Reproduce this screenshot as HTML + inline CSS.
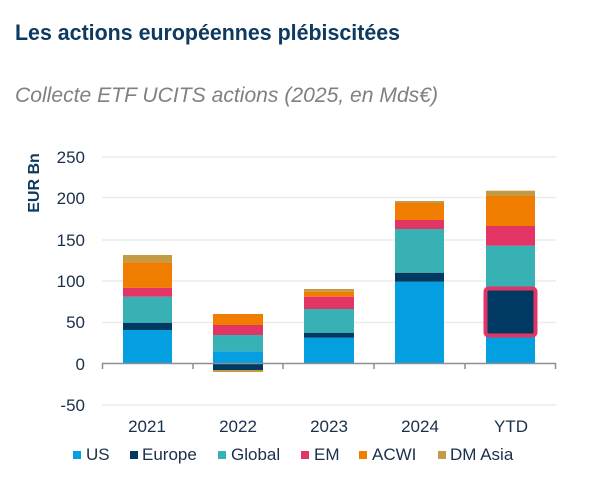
<!DOCTYPE html>
<html><head><meta charset="utf-8"><style>
body{margin:0;background:#fff;width:616px;height:478px;overflow:hidden}
</style></head><body>
<svg width="616" height="478" xmlns="http://www.w3.org/2000/svg" font-family="Liberation Sans, sans-serif">
<text x="15" y="40" font-size="22" font-weight="bold" fill="#0d3a60" textLength="385" lengthAdjust="spacingAndGlyphs">Les actions européennes plébiscitées</text>
<text x="15" y="102" font-size="21" font-style="italic" fill="#808080" textLength="423" lengthAdjust="spacingAndGlyphs">Collecte ETF UCITS actions (2025, en Mds€)</text>
<g stroke="#ececec" stroke-width="1.5">
<line x1="102" x2="556" y1="157" y2="157"/><line x1="102" x2="556" y1="197.5" y2="197.5"/><line x1="102" x2="556" y1="240" y2="240"/><line x1="102" x2="556" y1="281" y2="281"/><line x1="102" x2="556" y1="322.5" y2="322.5"/><line x1="102" x2="556" y1="405" y2="405"/>
</g>
<g font-size="17" fill="#1a2f4a" text-anchor="end">
<text x="85" y="163">250</text><text x="85" y="204">200</text><text x="85" y="246">150</text><text x="85" y="287">100</text><text x="85" y="328">50</text><text x="85" y="370">0</text><text x="85" y="411">-50</text>
</g>
<text transform="translate(39,183) rotate(-90)" font-size="16" font-weight="bold" fill="#0d3a60" text-anchor="middle">EUR Bn</text>
<!-- 2021 -->
<rect x="123" y="330" width="49" height="33" fill="#039fe0"/>
<rect x="123" y="322.7" width="49" height="7.3" fill="#003a63"/>
<rect x="123" y="296.7" width="49" height="26" fill="#38b1b5"/>
<rect x="123" y="287.7" width="49" height="9" fill="#e33565"/>
<rect x="123" y="262.3" width="49" height="25.4" fill="#f07d00"/>
<rect x="123" y="255" width="49" height="7.3" fill="#c49a45"/>
<!-- 2022 -->
<rect x="213" y="351.3" width="50" height="11.7" fill="#039fe0"/>
<rect x="213" y="363" width="50" height="7" fill="#003a63"/>
<rect x="213" y="370" width="50" height="2" fill="#c49a45"/>
<rect x="213" y="335" width="50" height="16.3" fill="#38b1b5"/>
<rect x="213" y="325" width="50" height="10" fill="#e33565"/>
<rect x="213" y="314" width="50" height="11" fill="#f07d00"/>
<!-- 2023 -->
<rect x="304" y="337.7" width="50" height="25.3" fill="#039fe0"/>
<rect x="304" y="332.7" width="50" height="5" fill="#003a63"/>
<rect x="304" y="309" width="50" height="23.7" fill="#38b1b5"/>
<rect x="304" y="296.7" width="50" height="12.3" fill="#e33565"/>
<rect x="304" y="291.7" width="50" height="5" fill="#f07d00"/>
<rect x="304" y="289" width="50" height="2.7" fill="#c49a45"/>
<!-- 2024 -->
<rect x="395" y="281.7" width="49" height="81.3" fill="#039fe0"/>
<rect x="395" y="272.7" width="49" height="9" fill="#003a63"/>
<rect x="395" y="229" width="49" height="43.7" fill="#38b1b5"/>
<rect x="395" y="220" width="49" height="9" fill="#e33565"/>
<rect x="395" y="203" width="49" height="17" fill="#f07d00"/>
<rect x="395" y="201" width="49" height="2" fill="#c49a45"/>
<!-- YTD -->
<rect x="486" y="336.7" width="49" height="26.3" fill="#039fe0"/>
<rect x="486" y="288.3" width="49" height="48.4" fill="#003a63"/>
<rect x="486" y="245.7" width="49" height="42.6" fill="#38b1b5"/>
<rect x="486" y="226" width="49" height="19.7" fill="#e33565"/>
<rect x="486" y="196" width="49" height="30" fill="#f07d00"/>
<rect x="486" y="190.7" width="49" height="5.3" fill="#c49a45"/>
<rect x="485.5" y="288.5" width="50" height="47" rx="3" fill="none" stroke="#e33565" stroke-width="4"/>
<g stroke="#8a8f96" stroke-width="1.5">
<line x1="102" x2="556" y1="363.5" y2="363.5"/>
<line x1="102.5" x2="102.5" y1="363" y2="369"/><line x1="193" x2="193" y1="363" y2="369"/><line x1="283" x2="283" y1="363" y2="369"/><line x1="374" x2="374" y1="363" y2="369"/><line x1="465" x2="465" y1="363" y2="369"/><line x1="555.5" x2="555.5" y1="363" y2="369"/>
</g>
<g font-size="17" fill="#1a2f4a" text-anchor="middle">
<text x="147" y="432">2021</text><text x="238" y="432">2022</text><text x="329" y="432">2023</text><text x="420" y="432">2024</text><text x="511" y="432">YTD</text>
</g>
<g font-size="17" fill="#1a2f4a">
<rect x="73" y="451" width="8" height="8" fill="#039fe0"/><text x="86" y="460">US</text>
<rect x="130" y="451" width="8" height="8" fill="#003a63"/><text x="142" y="460">Europe</text>
<rect x="218" y="451" width="8" height="8" fill="#38b1b5"/><text x="231" y="460">Global</text>
<rect x="301" y="451" width="8" height="8" fill="#e33565"/><text x="314" y="460">EM</text>
<rect x="359" y="451" width="8" height="8" fill="#f07d00"/><text x="372" y="460">ACWI</text>
<rect x="438" y="451" width="8" height="8" fill="#c49a45"/><text x="450" y="460">DM Asia</text>
</g>
</svg>
</body></html>
